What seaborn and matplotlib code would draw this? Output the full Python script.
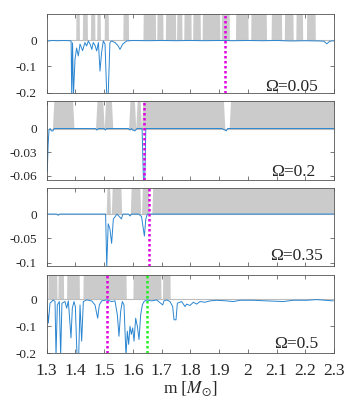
import numpy as np
import pandas as pd
import matplotlib
matplotlib.use("Agg")
import matplotlib.pyplot as plt
import seaborn as sns

# ---------------- data ----------------
omega_labels = ["Ω=0.05", "Ω=0.2", "Ω=0.35", "Ω=0.5"]

# panel 1 (Omega = 0.05)
m1 = [1.300, 1.305, 1.320, 1.340, 1.360, 1.380, 1.385, 1.387, 1.390, 1.393, 1.3985, 1.404, 1.410,
      1.416, 1.425, 1.433, 1.439, 1.445, 1.451, 1.457, 1.462, 1.468, 1.474, 1.480, 1.4855,
      1.491, 1.497, 1.503, 1.509, 1.514, 1.520, 1.526, 1.538, 1.549, 1.555, 1.5645, 1.578,
      1.600, 1.650, 1.700, 1.750, 1.800, 1.850, 1.900, 1.950, 2.000, 2.050, 2.100, 2.150,
      2.200, 2.250, 2.265, 2.275, 2.285, 2.300]
d1 = [-0.009, -0.003, -0.001, -0.002, -0.001, -0.002, -0.003, -0.21, -0.01, -0.21, -0.073, -0.03, -0.06,
      -0.015, -0.040, -0.009, -0.022, -0.003, -0.015, -0.035, -0.009, -0.019, -0.041, -0.009, -0.118,
      -0.047, -0.003, -0.015, -0.21, -0.21, -0.009, -0.003, -0.009, -0.022, -0.035, -0.015, -0.003,
      -0.001, -0.002, -0.001, -0.002, -0.001, -0.002, -0.001, -0.002, -0.001, -0.002, -0.001, -0.003,
      -0.002, -0.003, -0.004, -0.014, -0.004, -0.002]

# panel 2 (Omega = 0.2)
m2 = [1.300, 1.302, 1.305, 1.308, 1.312, 1.316, 1.322, 1.326, 1.470, 1.475, 1.480, 1.500, 1.504,
      1.508, 1.585, 1.590, 1.595, 1.600, 1.607, 1.614, 1.632, 1.637, 1.641, 1.645, 1.910,
      1.925, 1.930, 2.300]
d2 = [-0.010, -0.055, -0.020, -0.002, 0.0, -0.003, -0.003, 0.0, 0.0, -0.002, 0.0, 0.0, -0.002,
      0.0, 0.0, -0.002, 0.0, -0.002, -0.003, 0.0, 0.0, -0.07, -0.07, 0.0, 0.0,
      -0.003, 0.0, 0.0]

# panel 3 (Omega = 0.35)
m3 = [1.300, 1.335, 1.340, 1.345, 1.505, 1.509, 1.514, 1.520, 1.526, 1.532, 1.545, 1.560, 1.565,
      1.585, 1.590, 1.595, 1.620, 1.630, 1.640, 1.645, 1.650, 2.300]
d3 = [0.0, 0.0, -0.0025, 0.0, 0.0, -0.108, -0.020, -0.030, -0.060, -0.010, 0.0, -0.010, 0.0,
      0.0, -0.004, 0.0, 0.0, -0.005, -0.045, -0.010, 0.0, 0.0]

# panel 4 (Omega = 0.5)
m4 = [1.300, 1.3057, 1.3115, 1.323, 1.329, 1.3324, 1.337, 1.344, 1.3486, 1.353, 1.3637, 1.3695,
      1.3753, 1.3846, 1.3892, 1.395, 1.3997, 1.4055, 1.4113, 1.416, 1.4217, 1.4275, 1.4391,
      1.4565, 1.4681, 1.4774, 1.4832, 1.4913, 1.5087, 1.5261, 1.5377, 1.5458, 1.5516, 1.5574,
      1.5632, 1.569, 1.576, 1.5806, 1.5853, 1.5899, 1.5946, 1.5992, 1.6039, 1.6097, 1.6155,
      1.6213, 1.6271, 1.6329, 1.6387, 1.648, 1.6654, 1.6828, 1.7037, 1.7083, 1.7176, 1.7292,
      1.7385, 1.7431, 1.7501, 1.7547, 1.7698, 1.7814, 1.7872, 1.7988, 1.8104, 1.822, 1.8336,
      1.851, 1.8684, 1.8916, 1.9264, 1.9496, 1.9728, 2.0192, 2.0656, 2.1236, 2.1584, 2.2049,
      2.2397, 2.2977]
d4 = [-0.0085, -0.088, -0.0146, -0.0024, -0.0085, -0.21, -0.021, -0.0085, -0.21, -0.0146, -0.0085,
      -0.033, -0.006, -0.143, -0.033, -0.0085, -0.027, -0.21, -0.21, -0.021, -0.155, -0.0085,
      -0.0024, -0.006, -0.021, -0.070, -0.021, -0.006, -0.0024, -0.0085, -0.006, -0.057, -0.137,
      -0.045, -0.0085, -0.021, -0.21, -0.118, -0.167, -0.100, -0.130, -0.106, -0.155, -0.070,
      -0.100, -0.149, -0.057, -0.021, -0.0085, -0.0024, -0.006, -0.0024, -0.021, -0.006, -0.0024,
      -0.0085, -0.027, -0.076, -0.076, -0.0146, -0.0085, -0.027, -0.018, -0.023, -0.011, -0.018,
      -0.0085, -0.011, -0.006, -0.0037, -0.006, -0.0085, -0.0037, -0.0037, -0.006, -0.0085,
      -0.0037, -0.0037, -0.0012, -0.006]

# shaded (gray) mass intervals
gray1 = [(1.402, 1.413), (1.425, 1.441), (1.453, 1.467), (1.475, 1.486), (1.501, 1.514),
         (1.566, 1.584), (1.636, 1.678), (1.684, 1.704), (1.714, 1.748), (1.753, 1.770),
         (1.778, 1.802), (1.809, 1.834), (1.842, 1.902), (1.908, 1.935), (1.958, 2.000),
         (2.011, 2.064), (2.082, 2.117), (2.128, 2.157), (2.168, 2.190), (2.205, 2.234)]
gray2 = [(1.322, 1.392), (1.474, 1.498), (1.503, 1.527), (1.590, 1.606), (1.612, 1.628),
         (1.634, 1.915), (1.936, 2.300)]
gray3 = [(1.509, 1.520), (1.526, 1.558), (1.592, 1.625), (1.631, 1.654), (1.668, 2.300)]
gray4 = [(1.305, 1.335), (1.340, 1.358), (1.370, 1.413), (1.427, 1.576), (1.601, 1.697),
         (1.704, 1.729)]

# vertical marker masses
magenta_m = [1.921, 1.639, 1.656, 1.509]
green_m = [None, None, None, 1.648]

# axis ticks
yticks = [[0, -0.1, -0.2], [0, -0.03, -0.06], [0, -0.05, -0.1], [0, -0.1, -0.2]]
ytick_labels = [["0", "-0.1", "-0.2"], ["0", "-0.03", "-0.06"], ["0", "-0.05", "-0.1"], ["0", "-0.1", "-0.2"]]
ylims = [(-0.2, 0.1), (-0.065, 0.035), (-0.107, 0.054), (-0.2, 0.091)]
xticks = [1.3, 1.4, 1.5, 1.6, 1.7, 1.8, 1.9, 2.0, 2.1, 2.2, 2.3]
xtick_labels = ["1.3", "1.4", "1.5", "1.6", "1.7", "1.8", "1.9", "2", "2.1", "2.2", "2.3"]

# ---------------- style ----------------
sns.set_style("ticks")
plt.rcParams["font.family"] = ["Liberation Serif", "DejaVu Serif"]
plt.rcParams["mathtext.fontset"] = "stix"
plt.rcParams["axes.unicode_minus"] = False

fig = plt.figure(figsize=(3.53, 4.01), dpi=100)

left, width, height = 0.1323, 0.8139, 0.196
y0s = [0.7691, 0.5521, 0.3359, 0.1190]
grid_steps = [0.001, 0.005, 0.003, 0.001]
label_pos = [(0.944, 0.025), (0.934, 0.045), (0.960, 0.080), (0.945, 0.064)]

lines = [(m1, d1), (m2, d2), (m3, d3), (m4, d4)]
grays = [gray1, gray2, gray3, gray4]

blue = "#2a86d1"
graycol = "#cbcbcb"

for i in range(4):
    ax = fig.add_axes([left, y0s[i], width, height])
    lo, hi = ylims[i]
    # gray band
    grid = np.arange(1.3, 2.3 + 1e-9, grid_steps[i])
    ind = np.zeros_like(grid)
    for a, b in grays[i]:
        ind[(grid >= a - 1e-9) & (grid <= b + 1e-9)] = 1.0
    ax.fill_between(grid, 0, ind * hi * 1.05, color=graycol, lw=0, zorder=1)
    ax.axhline(0, color="#bdbdbd", lw=0.8, zorder=1.5)
    # line
    df = pd.DataFrame({"m": lines[i][0], "d": lines[i][1]})
    sns.lineplot(data=df, x="m", y="d", ax=ax, color=blue, lw=0.7,
                 estimator=None, sort=False, legend=False, zorder=3)
    # markers
    ax.axvline(magenta_m[i], color="#e000e0", lw=1.8, ls=(0, (1, 1)), zorder=4)
    if green_m[i] is not None:
        ax.axvline(green_m[i], color="#22ee22", lw=1.8, ls=(0, (1, 1)), zorder=4)

    ax.set_xlim(1.3, 2.3)
    ax.set_ylim(lo, hi)
    ax.set_yticks(yticks[i])
    ax.set_yticklabels(ytick_labels[i], fontsize=9.5)
    ax.set_xticks(xticks)
    if i == 3:
        ax.set_xticklabels(xtick_labels, fontsize=12.5)
        ax.set_xlabel(r"m $[M_{\odot}]$", fontsize=12.5, labelpad=0)
    else:
        ax.set_xticklabels([])
        ax.set_xlabel("")
    ax.set_ylabel("")
    ax.tick_params(direction="in", top=True, right=True, length=3, width=0.5,
                   color="#444444", pad=7)
    ax.tick_params(axis="x", pad=7)
    for s in ax.spines.values():
        s.set_linewidth(0.6)
        s.set_color("#555555")
        s.set_zorder(5)
    ax.text(label_pos[i][0], label_pos[i][1], omega_labels[i], transform=ax.transAxes,
            ha="right", va="baseline", fontsize=12.5, zorder=6)

fig.savefig("out.png", dpi=100)
